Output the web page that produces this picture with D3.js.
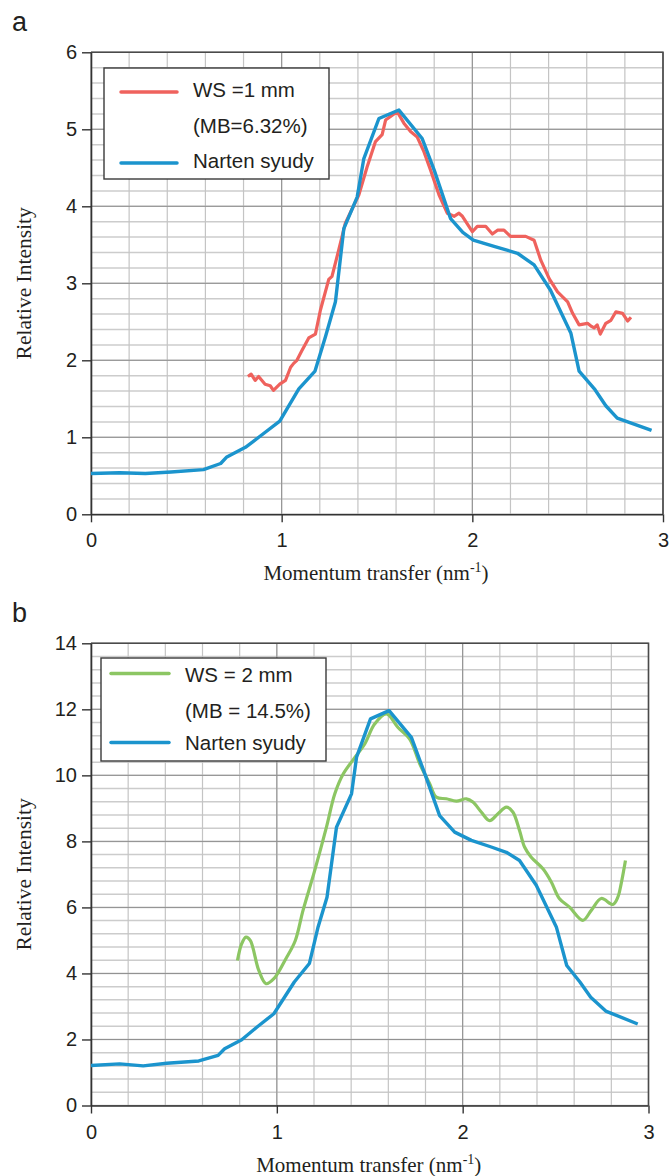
<!DOCTYPE html>
<html>
<head>
<meta charset="utf-8">
<script src="https://cdn.jsdelivr.net/npm/d3@7"></script>
<style>
  body { margin: 0; background: #fff; }
  svg text { fill: #231f20; }
</style>
</head>
<body>
<div class="d3-container"></div>
<script>
// tick labels
const xTicks = [0, 1, 2, 3];
const yTicksA = [0, 1, 2, 3, 4, 5, 6];
const yTicksB = [0, 2, 4, 6, 8, 10, 12, 14];

// legend texts
const legendA = ["WS =1 mm", "(MB=6.32%)", "Narten syudy"];
const legendB = ["WS = 2 mm", "(MB = 14.5%)", "Narten syudy"];

// panel a : Narten study
const nartenA = [
  [0, 0.53], [0.15, 0.54], [0.285, 0.53], [0.42, 0.55], [0.59, 0.58], [0.68, 0.66],
  [0.71, 0.74], [0.81, 0.87], [0.89, 1.02], [0.99, 1.21], [1.09, 1.63], [1.175, 1.86],
  [1.23, 2.31], [1.282, 2.76], [1.326, 3.71], [1.396, 4.12], [1.431, 4.62], [1.51, 5.14],
  [1.615, 5.25], [1.737, 4.88], [1.80, 4.47], [1.886, 3.84], [1.95, 3.66], [2.005, 3.56],
  [2.114, 3.48], [2.237, 3.39], [2.324, 3.24], [2.41, 2.91], [2.517, 2.35], [2.56, 1.86],
  [2.64, 1.63], [2.70, 1.41], [2.76, 1.25], [2.94, 1.09]
];

// panel a : WS = 1 mm
const wsA = [
  [0.823, 1.79], [0.84, 1.82], [0.861, 1.74], [0.879, 1.79], [0.913, 1.69], [0.94, 1.67],
  [0.957, 1.61], [0.99, 1.69], [1.02, 1.74], [1.047, 1.91], [1.063, 1.96], [1.08, 2.0],
  [1.107, 2.13], [1.142, 2.29], [1.177, 2.34], [1.203, 2.65], [1.247, 3.05], [1.264, 3.09],
  [1.299, 3.43], [1.334, 3.78], [1.405, 4.15], [1.448, 4.51], [1.492, 4.84], [1.527, 4.93],
  [1.545, 5.12], [1.606, 5.23], [1.641, 5.08], [1.676, 4.97], [1.711, 4.90], [1.746, 4.71],
  [1.781, 4.47], [1.825, 4.15], [1.869, 3.91], [1.904, 3.87], [1.93, 3.91], [1.948, 3.87],
  [2.0, 3.67], [2.026, 3.74], [2.07, 3.74], [2.105, 3.64], [2.132, 3.69], [2.166, 3.69],
  [2.20, 3.61], [2.28, 3.61], [2.324, 3.56], [2.359, 3.30], [2.403, 3.06], [2.447, 2.89],
  [2.50, 2.76], [2.526, 2.61], [2.56, 2.46], [2.604, 2.48], [2.625, 2.44], [2.639, 2.42],
  [2.655, 2.46], [2.671, 2.34], [2.70, 2.48], [2.727, 2.52], [2.753, 2.63], [2.788, 2.61],
  [2.815, 2.51], [2.832, 2.56]
];

// panel b : Narten study
const nartenB = [
  [0, 1.21], [0.154, 1.26], [0.281, 1.20], [0.408, 1.28], [0.58, 1.35], [0.684, 1.52],
  [0.719, 1.72], [0.811, 1.99], [0.892, 2.37], [0.984, 2.78], [1.094, 3.74], [1.175, 4.30],
  [1.222, 5.41], [1.27, 6.31], [1.321, 8.43], [1.402, 9.44], [1.429, 10.55], [1.504, 11.71],
  [1.604, 11.96], [1.724, 11.15], [1.796, 10.05], [1.876, 8.78], [1.957, 8.28], [2.047, 8.03],
  [2.154, 7.83], [2.235, 7.67], [2.306, 7.42], [2.396, 6.67], [2.504, 5.41], [2.56, 4.24],
  [2.631, 3.74], [2.689, 3.28], [2.77, 2.86], [2.942, 2.47]
];

// panel b : WS = 2 mm
const wsB = [
  [0.788, 4.39], [0.811, 4.9], [0.834, 5.1], [0.857, 5.0], [0.903, 4.09], [0.942, 3.69],
  [0.984, 3.84], [1.048, 4.44], [1.099, 4.99], [1.141, 5.91], [1.204, 7.12], [1.267, 8.43],
  [1.312, 9.44], [1.357, 10.04], [1.428, 10.6], [1.473, 10.95], [1.527, 11.56], [1.59, 11.86],
  [1.652, 11.45], [1.715, 11.10], [1.769, 10.35], [1.823, 9.74], [1.858, 9.34], [1.912, 9.29],
  [1.966, 9.22], [2.02, 9.29], [2.055, 9.19], [2.10, 8.89], [2.145, 8.63], [2.19, 8.84],
  [2.235, 9.04], [2.27, 8.89], [2.306, 8.33], [2.333, 7.83], [2.369, 7.52], [2.432, 7.17],
  [2.477, 6.77], [2.52, 6.27], [2.575, 6.01], [2.647, 5.61], [2.692, 5.91], [2.746, 6.27],
  [2.808, 6.09], [2.835, 6.31], [2.853, 6.72], [2.876, 7.42]
];

const width = 670;
const height = 1176;

const svg = d3.select(".d3-container")
  .append("svg")
  .attr("width", width)
  .attr("height", height)
  .style("font-family", "'Liberation Sans', Arial, sans-serif");

const red = "#ef625d";
const blue = "#1b94cd";
const green = "#8cc663";

function panel(o) {
  const x = d3.scaleLinear().domain([0, 3]).range([o.left, o.right]);
  const y = d3.scaleLinear().domain([0, o.yMax]).range([o.bottom, o.top]);
  const g = svg.append("g");

  // minor grid
  const xMinor = d3.range(0, 3.0001, 0.2);
  const yMinor = d3.range(0, o.yMax + 0.0001, o.yMinor);
  g.append("g").selectAll("line").data(yMinor).join("line")
    .attr("x1", o.left).attr("x2", o.right)
    .attr("y1", d => y(d)).attr("y2", d => y(d))
    .attr("stroke", "#cccccc").attr("stroke-width", 1.5);
  g.append("g").selectAll("line").data(xMinor).join("line")
    .attr("y1", o.top).attr("y2", o.bottom)
    .attr("x1", d => x(d)).attr("x2", d => x(d))
    .attr("stroke", "#c4c4c4").attr("stroke-width", 1.2);

  // major grid
  g.append("g").selectAll("line").data(o.yTicks).join("line")
    .attr("x1", o.left).attr("x2", o.right)
    .attr("y1", d => y(d)).attr("y2", d => y(d))
    .attr("stroke", "#8f8f8f").attr("stroke-width", 1);
  g.append("g").selectAll("line").data(xTicks).join("line")
    .attr("y1", o.top).attr("y2", o.bottom)
    .attr("x1", d => x(d)).attr("x2", d => x(d))
    .attr("stroke", "#8f8f8f").attr("stroke-width", 1);

  // top and right border
  g.append("path")
    .attr("d", `M${x(0)},${y(o.yMax)}H${x(3)}V${y(0)}`)
    .attr("fill", "none").attr("stroke", "#4a4a4a").attr("stroke-width", 1.6);

  // axes
  const yAxis = g.append("g")
    .attr("transform", `translate(${o.left},0)`)
    .call(d3.axisLeft(y).tickValues(o.yTicks).tickFormat(d3.format("d"))
      .tickSize(9).tickPadding(5).tickSizeOuter(0));
  const xAxis = g.append("g")
    .attr("transform", `translate(0,${o.bottom})`)
    .call(d3.axisBottom(x).tickValues(xTicks).tickFormat(d3.format("d"))
      .tickSize(8).tickPadding(11).tickSizeOuter(0));
  [xAxis, yAxis].forEach(a => {
    a.select(".domain").attr("stroke", "#333").attr("stroke-width", 1.6);
    a.selectAll(".tick line").attr("stroke", "#333").attr("stroke-width", 1.4);
    a.selectAll(".tick text")
      .style("font-family", "'Liberation Sans', Arial, sans-serif")
      .style("font-size", "20px").attr("fill", "#231f20");
  });
  xAxis.select(".domain").attr("d", `M${o.left},0.5H${o.right}`);

  // data lines
  const line = d3.line().x(d => x(d[0])).y(d => y(d[1]));
  const smooth = d3.line().x(d => x(d[0])).y(d => y(d[1])).curve(d3.curveCatmullRom.alpha(0.5));
  g.append("path").datum(o.ws)
    .attr("d", o.smooth ? smooth : line)
    .attr("fill", "none").attr("stroke", o.color).attr("stroke-width", 3.2)
    .attr("stroke-linejoin", "round");
  g.append("path").datum(o.narten)
    .attr("d", line)
    .attr("fill", "none").attr("stroke", blue).attr("stroke-width", 3.4)
    .attr("stroke-linejoin", "round");

  // legend
  const L = o.legend;
  g.append("rect")
    .attr("x", L.x).attr("y", L.y).attr("width", L.w).attr("height", L.h)
    .attr("fill", "#fff").attr("stroke", "#3a3a3a").attr("stroke-width", 1.4);
  g.append("line")
    .attr("x1", L.lx1).attr("x2", L.lx2).attr("y1", L.l1).attr("y2", L.l1)
    .attr("stroke", o.color).attr("stroke-width", 3.5).attr("stroke-linecap", "round");
  g.append("line")
    .attr("x1", L.lx1).attr("x2", L.lx2).attr("y1", L.l2).attr("y2", L.l2)
    .attr("stroke", blue).attr("stroke-width", 3.5).attr("stroke-linecap", "round");
  g.append("g").selectAll("text").data(L.texts).join("text")
    .attr("x", L.tx).attr("y", (d, i) => L.ty[i])
    .style("font-size", "20.5px")
    .text(d => d);

  // titles
  g.append("text")
    .attr("x", 12).attr("y", o.top - 21)
    .style("font-size", "27px")
    .text(o.label);

  const xt = g.append("text")
    .attr("x", (o.left + o.right) / 2 - 1).attr("y", o.bottom + 66)
    .attr("text-anchor", "middle")
    .style("font-family", "'Liberation Serif', 'Times New Roman', serif")
    .style("font-size", "21px");
  xt.append("tspan").text("Momentum transfer (nm");
  xt.append("tspan").attr("dy", -8).style("font-size", "14px").text("-1");
  xt.append("tspan").attr("dy", 8).text(")");

  g.append("text")
    .attr("transform", `translate(31,${(o.top + o.bottom) / 2}) rotate(-90)`)
    .attr("text-anchor", "middle")
    .style("font-family", "'Liberation Serif', 'Times New Roman', serif")
    .style("font-size", "21.5px")
    .text("Relative Intensity");
}

panel({
  label: "a", left: 91, right: 663, top: 52.3, bottom: 514.3, yMax: 6, yMinor: 0.2,
  yTicks: yTicksA, ws: wsA, narten: nartenA, color: red, smooth: false,
  legend: {x: 104, y: 68, w: 225, h: 111, lx1: 121, lx2: 177, l1: 92, l2: 163,
    tx: 193, ty: [97, 133, 168], texts: legendA}
});

panel({
  label: "b", left: 91, right: 648.5, top: 643.3, bottom: 1105.5, yMax: 14, yMinor: 0.4,
  yTicks: yTicksB, ws: wsB, narten: nartenB, color: green, smooth: true,
  legend: {x: 101, y: 658, w: 225, h: 103, lx1: 111, lx2: 169, l1: 673.5, l2: 742.5,
    tx: 185, ty: [682, 718, 750], texts: legendB}
});

svg.node();
</script>
</body>
</html>
